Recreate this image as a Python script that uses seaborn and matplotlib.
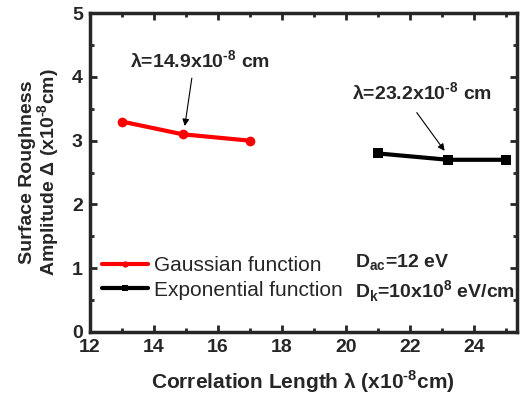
import numpy as np
import pandas as pd
import seaborn as sns
import matplotlib.pyplot as plt
from matplotlib.ticker import MultipleLocator

# data
gauss_len = [13.0, 14.9, 17.0]
gauss_amp = [3.3, 3.1, 3.0]
expo_len = [21.0, 23.2, 25.0]
expo_amp = [2.8, 2.7, 2.7]

df = pd.DataFrame({
    "len": gauss_len + expo_len,
    "amp": gauss_amp + expo_amp,
    "kind": ["Gaussian function"] * 3 + ["Exponential function"] * 3,
})

sns.set_style("ticks")
plt.rcParams['font.family'] = ['Liberation Sans', 'DejaVu Sans']
plt.rcParams['mathtext.fontset'] = 'custom'
plt.rcParams['mathtext.rm'] = 'Liberation Sans:bold'
plt.rcParams['mathtext.bf'] = 'Liberation Sans:bold'

fig = plt.figure(figsize=(5.28, 3.98), dpi=100)
ax = fig.add_axes([0.170, 0.166, 0.809, 0.801])

sns.lineplot(data=df, x="len", y="amp", hue="kind", style="kind",
             palette={"Gaussian function": "#ff0000", "Exponential function": "black"},
             markers={"Gaussian function": "o", "Exponential function": "s"},
             dashes=False, linewidth=3, markersize=7, markeredgewidth=0,
             ax=ax)

ax.set_xlim(12, 25.35)
ax.set_ylim(0, 5)
ax.xaxis.set_major_locator(MultipleLocator(2))
ax.xaxis.set_minor_locator(MultipleLocator(1))
ax.yaxis.set_major_locator(MultipleLocator(1))
ax.yaxis.set_minor_locator(MultipleLocator(0.5))
ax.tick_params(which='both', direction='in', top=True, right=True, width=2)
ax.tick_params(which='major', length=5, labelsize=14)
ax.tick_params(axis='y', which='major', pad=5)
ax.tick_params(axis='x', which='major', pad=5)
ax.tick_params(which='minor', length=3)
for lab in ax.get_xticklabels() + ax.get_yticklabels():
    lab.set_fontweight('bold')
for sp in ax.spines.values():
    sp.set_linewidth(2.5)

sup8 = r"$^{\text{-8}}$"
ax.set_xlabel("Correlation Length λ (x10" + sup8 + "cm)",
              fontsize=15, fontweight='bold', labelpad=9)
ax.set_ylabel("Surface Roughness\nAmplitude Δ (x10" + sup8 + "cm)",
              fontsize=14, fontweight='bold', labelpad=7, linespacing=1.0)

leg = ax.legend(title=None, loc='lower left', bbox_to_anchor=(0.01, 0.075), frameon=False,
                fontsize=15, handlelength=2.2, handletextpad=0.3, labelspacing=0.25,
                borderaxespad=0)
for h in leg.legend_handles:
    h.set_markersize(4.5)
    h.set_linewidth(3)

# annotations: text and arrow placed separately
ax.text(15.44, 4.25, "λ=14.9x10" + sup8 + " cm", ha='center', va='center',
        fontsize=14, fontweight='bold')
ax.annotate("", xy=(14.97, 3.23), xytext=(15.19, 3.98),
            arrowprops=dict(arrowstyle='-|>', color='black', lw=0.8,
                            mutation_scale=10, shrinkA=0, shrinkB=0))
ax.text(22.375, 3.75, "λ=23.2x10" + sup8 + " cm", ha='center', va='center',
        fontsize=14, fontweight='bold')
ax.annotate("", xy=(23.09, 2.84), xytext=(22.22, 3.44),
            arrowprops=dict(arrowstyle='-|>', color='black', lw=0.8,
                            mutation_scale=10, shrinkA=0, shrinkB=0))

ax.text(20.28, 1.08, r"D$_{\text{ac}}$=12 eV", fontsize=14, fontweight='bold', va='center')
ax.text(20.28, 0.64, r"D$_{\text{k}}$=10x10$^{\text{8}}$ eV/cm", fontsize=14,
        fontweight='bold', va='center')

fig.savefig("out.png", dpi=100)
